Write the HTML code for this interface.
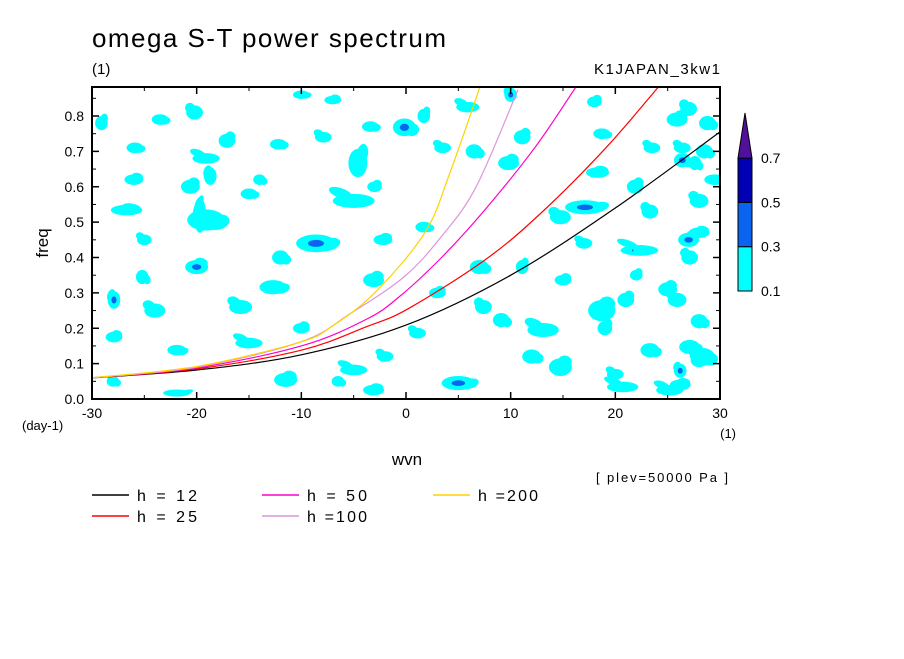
<!DOCTYPE html>
<html><head><meta charset="utf-8"><style>
body{margin:0;background:#fff;}
svg text{font-family:"Liberation Sans",sans-serif;fill:#000;}
</style></head><body>
<svg id="chart" width="904" height="654" viewBox="0 0 904 654" xmlns="http://www.w3.org/2000/svg">
<rect width="904" height="654" fill="#fff"/>
<text x="92" y="47" font-size="26" textLength="354" lengthAdjust="spacing">omega S-T power spectrum</text>
<text x="92" y="74" font-size="15">(1)</text>
<text x="594" y="74" font-size="15" textLength="126" lengthAdjust="spacing">K1JAPAN_3kw1</text>
<defs><clipPath id="pc"><rect x="92" y="87" width="628" height="312"/></clipPath></defs>
<g id="blobs" clip-path="url(#pc)"></g>
<g id="curves" clip-path="url(#pc)"></g>
<rect x="92" y="87" width="628" height="312" fill="none" stroke="#000" stroke-width="2"/>
<g id="axes"></g>
<text transform="translate(48,243) rotate(-90)" font-size="17" text-anchor="middle">freq</text>
<text x="407" y="465" font-size="17" text-anchor="middle">wvn</text>
<text x="22" y="430" font-size="13">(day-1)</text>
<text x="736" y="438" font-size="13" text-anchor="end">(1)</text>
<text x="596" y="482" font-size="13" textLength="132" lengthAdjust="spacing">[ plev=50000 Pa ]</text>
<g id="colorbar"></g>
<g id="legend"></g>
</svg>
<script>
const ns="http://www.w3.org/2000/svg";
const kTicks=[-30,-20,-10,0,10,20,30];
const fTicks=[0,0.1,0.2,0.3,0.4,0.5,0.6,0.7,0.8];
const hLabels=["h = 12","h = 25","h = 50","h =100","h =200"];
const curveColors=["#000000","#ff0000","#ff00c8","#dc96dc","#ffd200"];
const h12K=[-30,-20,-10,0,10,20,30];
const h12F=[0.06,0.082,0.125,0.209,0.35,0.54,0.755];
const h25K=[-30,-20,-10,-3.8,0.2,7.4,12.7,19.1,24.2];
const h25F=[0.06,0.085,0.138,0.204,0.255,0.39,0.52,0.71,0.885];
const h50K=[-30,-20,-10,-3.8,-0.6,3.4,7.4,12.3,16.3];
const h50F=[0.06,0.088,0.15,0.225,0.29,0.40,0.53,0.71,0.885];
const h100K=[-30,-20,-10,-5.4,-0.2,3.4,6.7,10.7];
const h100F=[0.06,0.09,0.162,0.24,0.345,0.46,0.60,0.874];
const h200K=[-30,-20,-10.2,-7.1,-3,1.8,4.2,7.1];
const h200F=[0.06,0.092,0.16,0.205,0.30,0.47,0.64,0.885];
const cbLevels=[0.1,0.3,0.5,0.7];
const cbColors=["#00ffff","#0a64f0","#0000b4","#50109a"];
// blobs: [k, freq, rk, rf, dark]
const blobs=[[-19.1,.506,1.8,.03,0],[-19.7,.52,.6,.05,0],[-26.7,.534,1.5,.015,0],[-8.6,.44,1.9,.025,1],[-5,.56,2,.02,0],[-4.6,.667,.9,.04,0],[-0.15,.768,1.1,.025,1],[5.9,.825,1.1,.015,0],[11.1,.74,.8,.02,0],[17.1,.542,1.9,.02,1],[14.75,.514,1,.02,0],[14.75,.09,1.1,.025,0],[5,.045,1.6,.02,1],[27.1,.40,.8,.02,0],[18.7,.25,1.3,.03,0],[27.1,.147,1,.02,0],[20.7,.034,1.5,.015,0],[25.9,.79,1,.02,0],[27.6,.667,.6,.02,0],[25.9,.28,.9,.02,0],[11.1,.373,.6,.02,0],[7,.373,.9,.02,0],[7.4,.26,.8,.02,0],[-3.1,.336,1,.02,0],[-12.7,.316,1.3,.02,0],[-15.8,.26,1.1,.02,0],[-20,.373,1.1,.02,1],[-25.2,.345,.6,.02,0],[-27.9,.28,.6,.025,1],[-27.9,.175,.8,.015,0],[-21.9,.138,.9,.015,0],[-15,.158,1.3,.015,0],[-11.5,.054,1.1,.02,0],[-21.9,.017,1.3,.01,0],[-5,.082,1.3,.015,0],[-3.1,.025,1,.015,0],[28.4,.119,1.1,.025,0],[25.2,.025,1.3,.015,0],[28,.47,1,.015,0],[28.8,.78,.8,.02,0],[26.4,.71,.8,.015,0],[18.3,.64,1.1,.015,0],[18.7,.75,.8,.015,0],[23.5,.71,.8,.015,0],[9.8,.667,1,.02,0],[6.5,.70,.8,.02,0],[3.5,.71,.8,.015,0],[1.7,.80,.6,.02,0],[-3.4,.77,.8,.015,0],[-7.9,.74,.8,.015,0],[-7,.845,.8,.012,0],[-12.2,.72,.8,.015,0],[-19.1,.68,1.3,.015,0],[-17.1,.73,.8,.02,0],[-23.5,.79,.8,.015,0],[-20.2,.81,.8,.02,0],[-29.1,.78,.6,.02,0],[-25.9,.71,.8,.015,0],[-18.7,.63,.6,.025,0],[-20.6,.60,.9,.02,0],[-15,.58,.8,.015,0],[13.1,.195,1.5,.02,0],[15,.336,.8,.015,0],[9.1,.223,.8,.02,0],[1.1,.186,.8,.015,0],[-2.2,.45,.9,.015,0],[1.7,.486,.8,.015,0],[22.3,.42,1.8,.015,1],[21.9,.60,.8,.02,0],[29.5,.62,1,.015,0],[28,.56,.9,.02,0],[27,.45,1,.02,1],[28.5,.70,.8,.02,0],[27,.82,.8,.02,0],[25,.31,.9,.02,0],[28,.22,.8,.02,0],[28,.11,.8,.02,0],[26.2,.04,1,.015,0],[23.3,.138,.9,.02,0],[20,.07,.8,.015,0],[21,.28,.8,.02,0],[22.5,.42,.8,.015,0],[23.3,.53,.8,.02,0],[22,.35,.6,.015,0],[26.4,.675,.8,.02,1],[26.2,.08,.6,.02,1],[19,.2,.7,.02,0],[-14,.62,.6,.015,0],[-25,.45,.7,.015,0],[-3,.6,.7,.015,0],[-6.5,.05,.6,.015,0],[10,.86,.6,.02,1],[18,.84,.7,.015,0],[-28,.05,.6,.015,0],[-24,.25,1,.02,0],[-10,.2,.8,.015,0],[-12,.4,.8,.02,0],[-2,.12,.8,.015,0],[3,.3,.8,.015,0],[12,.12,.9,.02,0],[17,.44,.8,.015,0],[-26,.62,.9,.015,0],[-10,.86,.8,.012,0]];
const X=k=>92+(k+30)*628/60;
const Y=f=>399-f*353.75;
function el(t,a,p){const e=document.createElementNS(ns,t);for(const n in a)e.setAttribute(n,a[n]);p.appendChild(e);return e;}
const gb=document.getElementById('blobs');
const offs=[[0.6,0.5,-15],[-0.7,-0.4,20],[0.3,-0.7,10]];
blobs.forEach((b,i)=>{
 const rx=b[2]*10.47,ry=b[3]*353.75,cx=X(b[0]),cy0=Y(b[1]);
 const e=el('ellipse',{cx:cx,cy:cy0,rx:rx,ry:ry,fill:cbColors[0]},gb);
 
 
 const o=offs[i%3];
 const s=el('ellipse',{cx:cx+o[0]*rx,cy:cy0+o[1]*ry,rx:rx*0.6,ry:ry*0.7,fill:cbColors[0],transform:`rotate(${o[2]} ${cx} ${cy0})`},gb);
 
 
 if(b[4]){const d=el('ellipse',{cx:cx,cy:cy0,rx:rx*0.4,ry:ry*0.4,fill:cbColors[1]},gb);
 
 }
});
function smooth(pts){
 let d='M'+pts[0][0].toFixed(1)+','+pts[0][1].toFixed(1);
 for(let i=0;i<pts.length-1;i++){
  const p0=pts[Math.max(0,i-1)],p1=pts[i],p2=pts[i+1],p3=pts[Math.min(pts.length-1,i+2)];
  const c1=[p1[0]+(p2[0]-p0[0])/6,p1[1]+(p2[1]-p0[1])/6],c2=[p2[0]-(p3[0]-p1[0])/6,p2[1]-(p3[1]-p1[1])/6];
  d+=`C${c1[0].toFixed(1)},${c1[1].toFixed(1)} ${c2[0].toFixed(1)},${c2[1].toFixed(1)} ${p2[0].toFixed(1)},${p2[1].toFixed(1)}`;
 }
 return d;
}
const gc=document.getElementById('curves');
[[h12K,h12F],[h25K,h25F],[h50K,h50F],[h100K,h100F],[h200K,h200F]].forEach((s,i)=>{
 const pts=s[0].map((k,j)=>[X(k),Y(s[1][j])]);
 const p=el('path',{d:smooth(pts),fill:'none',stroke:curveColors[i],'stroke-width':1.2},gc);
 
 
});
const ga=document.getElementById('axes');
kTicks.forEach(k=>{
 el('line',{x1:X(k),x2:X(k),y1:399,y2:392,stroke:'#000','stroke-width':1.5},ga);
 el('line',{x1:X(k),x2:X(k),y1:87,y2:94,stroke:'#000','stroke-width':1.5},ga);
 const t=el('text',{x:X(k),y:418,'font-size':14,'text-anchor':'middle'},ga);t.textContent=k;
 
 
});
for(let k=-25;k<30;k+=10){el('line',{x1:X(k),x2:X(k),y1:399,y2:395,stroke:'#000'},ga);el('line',{x1:X(k),x2:X(k),y1:87,y2:91,stroke:'#000'},ga);}
fTicks.forEach(f=>{
 el('line',{x1:92,x2:99,y1:Y(f),y2:Y(f),stroke:'#000','stroke-width':1.5},ga);
 el('line',{x1:713,x2:720,y1:Y(f),y2:Y(f),stroke:'#000','stroke-width':1.5},ga);
 el('line',{x1:92,x2:96,y1:Y(f+0.05),y2:Y(f+0.05),stroke:'#000'},ga);
 el('line',{x1:716,x2:720,y1:Y(f+0.05),y2:Y(f+0.05),stroke:'#000'},ga);
 const t=el('text',{x:84,y:Y(f)+5,'font-size':14,'text-anchor':'end'},ga);t.textContent=f.toFixed(1);
 
 
});
const cb=document.getElementById('colorbar');
const cy=v=>291-(v-0.1)/0.2*44.3;
for(let i=0;i<3;i++){
 const r=el('rect',{x:738,y:cy(cbLevels[i+1]),width:14,height:cy(cbLevels[i])-cy(cbLevels[i+1]),fill:cbColors[i],stroke:'#000'},cb);
 
 
}
const tri=el('polygon',{points:`738,${cy(0.7)} 752,${cy(0.7)} 745,113`,fill:cbColors[3],stroke:'#000'},cb);


cbLevels.forEach(v=>{const t=el('text',{x:761,y:cy(v)+5,'font-size':14},cb);t.textContent=v.toFixed(1);
 
 });
const gl=document.getElementById('legend');
const lx=[92,92,262,262,433],ly=[495,516,495,516,495];
[0,1,2,3,4].forEach(i=>{
 el('line',{x1:lx[i],x2:lx[i]+37,y1:ly[i],y2:ly[i],stroke:curveColors[i],'stroke-width':1.5},gl);
 const t=el('text',{x:lx[i]+45,y:ly[i]+6,'font-size':16,textLength:60,lengthAdjust:'spacing'},gl);t.textContent=hLabels[i];
 
 
});
</script>
</body></html>
